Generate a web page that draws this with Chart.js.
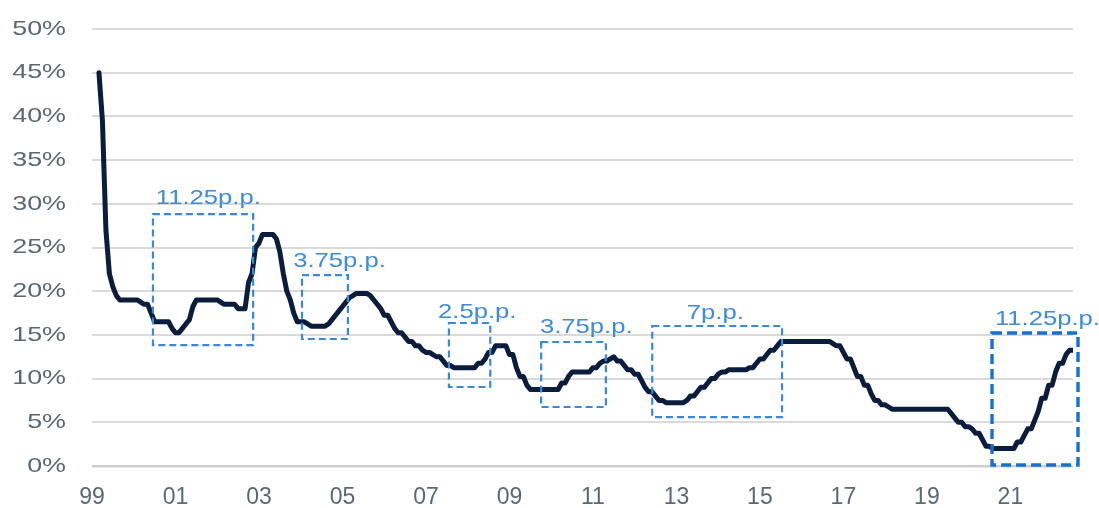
<!DOCTYPE html>
<html>
<head>
<meta charset="utf-8">
<script src="https://cdn.jsdelivr.net/npm/chart.js@4/dist/chart.umd.min.js"></script>
<style>
  html, body { margin: 0; padding: 0; background: #ffffff; }
  canvas { display: block; }
</style>
</head>
<body>
<canvas id="selic" width="1099" height="508"></canvas>
<script>
// Monthly policy rate (% p.a.), March 1999 through July 2022
const startYear = 1999;
const startMonth = 3;
const selic = [
  45, 39.5, 27, 22, 20.5, 19.5, 19, 19, 19, 19,                                   // 1999
  19, 19, 18.75, 18.5, 18.5, 17.5, 16.5, 16.5, 16.5, 16.5, 16.5, 15.75,           // 2000
  15.25, 15.25, 15.75, 16.25, 16.75, 18.25, 19, 19, 19, 19, 19, 19,               // 2001
  19, 18.75, 18.5, 18.5, 18.5, 18.5, 18, 18, 18, 21, 22, 25,                      // 2002
  25.5, 26.5, 26.5, 26.5, 26.5, 26, 24.5, 22, 20, 19, 17.5, 16.5,                 // 2003
  16.5, 16.5, 16.25, 16, 16, 16, 16, 16, 16.25, 16.75, 17.25, 17.75,              // 2004
  18.25, 18.75, 19.25, 19.5, 19.75, 19.75, 19.75, 19.75, 19.5, 19, 18.5, 18,      // 2005
  17.25, 17.25, 16.5, 15.75, 15.25, 15.25, 14.75, 14.25, 14.25, 13.75, 13.75, 13.25, // 2006
  13, 13, 12.75, 12.5, 12.5, 12, 11.5, 11.5, 11.25, 11.25, 11.25, 11.25,          // 2007
  11.25, 11.25, 11.25, 11.75, 11.75, 12.25, 13, 13, 13.75, 13.75, 13.75, 13.75,   // 2008
  12.75, 12.75, 11.25, 10.25, 10.25, 9.25, 8.75, 8.75, 8.75, 8.75, 8.75, 8.75,    // 2009
  8.75, 8.75, 8.75, 9.5, 9.5, 10.25, 10.75, 10.75, 10.75, 10.75, 10.75, 10.75,    // 2010
  11.25, 11.25, 11.75, 12, 12, 12.25, 12.5, 12, 12, 11.5, 11, 11,                 // 2011
  10.5, 10.5, 9.75, 9, 8.5, 8.5, 8, 7.5, 7.5, 7.25, 7.25, 7.25,                   // 2012
  7.25, 7.25, 7.25, 7.5, 8, 8, 8.5, 9, 9, 9.5, 10, 10,                            // 2013
  10.5, 10.75, 10.75, 11, 11, 11, 11, 11, 11, 11.25, 11.25, 11.75,                // 2014
  12.25, 12.25, 12.75, 13.25, 13.25, 13.75, 14.25, 14.25, 14.25, 14.25, 14.25, 14.25, // 2015
  14.25, 14.25, 14.25, 14.25, 14.25, 14.25, 14.25, 14.25, 14.25, 14, 13.75, 13.75, // 2016
  13, 12.25, 12.25, 11.25, 10.25, 10.25, 9.25, 9.25, 8.25, 7.5, 7.5, 7,           // 2017
  7, 6.75, 6.5, 6.5, 6.5, 6.5, 6.5, 6.5, 6.5, 6.5, 6.5, 6.5,                      // 2018
  6.5, 6.5, 6.5, 6.5, 6.5, 6.5, 6.5, 6, 5.5, 5, 5, 4.5,                           // 2019
  4.5, 4.25, 3.75, 3.75, 3, 2.25, 2.25, 2, 2, 2, 2, 2,                            // 2020
  2, 2, 2.75, 2.75, 3.5, 4.25, 4.25, 5.25, 6.25, 7.75, 7.75, 9.25,                // 2021
  9.25, 10.75, 11.75, 11.75, 12.75, 13.25, 13.25                                  // 2022
];

// Axis labels
const tickYears = [1999, 2001, 2003, 2005, 2007, 2009, 2011, 2013, 2015, 2017, 2019, 2021];
const tickLabels = ['99', '01', '03', '05', '07', '09', '11', '13', '15', '17', '19', '21'];
const axisMin = 1999;
const axisMax = 2022.5;

// Highlighted easing/tightening episodes (years, % levels) and their captions
const boxStart   = [2000.46, 2004.03, 2007.55, 2009.76, 2012.42, 2020.56];
const boxEnd     = [2002.86, 2005.13, 2008.54, 2011.31, 2015.53, 2022.62];
const boxLow     = [13.84, 14.53, 9.04, 6.75, 5.6, 0.11];
const boxHigh    = [28.83, 21.85, 16.36, 14.19, 16.02, 15.22];
const boxLabels  = ['11.25p.p.', '3.75p.p.', '2.5p.p.', '3.75p.p.', '7p.p.', '11.25p.p.'];
const labelYear  = [2000.53, 2003.82, 2007.29, 2009.73, 2013.25, 2020.63];
const labelLevel = [29.98, 22.77, 16.93, 15.22, 16.82, 16.13];

const points = selic.map((v, i) => ({ x: startYear + (startMonth - 1 + i) / 12, y: v }));

const LABEL_GREY = '#5b6872';
const Y_TEXT_STRETCH = 1.28;
const NOTE_STRETCH = 1.22;

// The value axis labels use a wide, stretched face; patch right-aligned text drawing
const wideAxisText = {
  id: 'wideAxisText',
  beforeDraw(chart) {
    const ctx = chart.ctx;
    if (ctx.__plainFillText) return;
    const plain = ctx.fillText;
    ctx.__plainFillText = plain;
    ctx.fillText = function (text, x, y, maxWidth) {
      if (this.textAlign !== 'right') return plain.call(this, text, x, y);
      this.save();
      this.translate(x, y);
      this.scale(Y_TEXT_STRETCH, 1);
      plain.call(this, text, 0, 0);
      this.restore();
    };
  }
};

// Dashed rectangles with their captions
const episodeBoxes = {
  id: 'episodeBoxes',
  afterDatasetsDraw(chart) {
    const ctx = chart.ctx;
    const xs = chart.scales.x, ys = chart.scales.y;
    const plain = ctx.__plainFillText || ctx.fillText;
    boxLabels.forEach((label, i) => {
      const last = i === boxLabels.length - 1;
      const x0 = xs.getPixelForValue(boxStart[i]);
      const x1 = xs.getPixelForValue(boxEnd[i]);
      const y0 = ys.getPixelForValue(boxHigh[i]);
      const y1 = ys.getPixelForValue(boxLow[i]);
      ctx.save();
      ctx.strokeStyle = last ? '#1670d2' : '#3a88d6';
      ctx.lineWidth = last ? 3.4 : 2.2;
      ctx.setLineDash(last ? [10, 5] : [7, 4]);
      ctx.strokeRect(x0, y0, x1 - x0, y1 - y0);
      ctx.restore();

      ctx.save();
      ctx.font = '21px "Liberation Sans", Arial, sans-serif';
      ctx.fillStyle = '#3d8bd9';
      ctx.textAlign = 'left';
      ctx.textBaseline = 'alphabetic';
      ctx.translate(xs.getPixelForValue(labelYear[i]), ys.getPixelForValue(labelLevel[i]));
      ctx.scale(NOTE_STRETCH, 1);
      plain.call(ctx, label, 0, 0);
      ctx.restore();
    });
  }
};

new Chart(document.getElementById('selic'), {
  type: 'line',
  data: {
    datasets: [{
      data: points,
      borderColor: '#0b1d3d',
      borderWidth: 5,
      pointRadius: 0,
      tension: 0,
      borderJoinStyle: 'round',
      borderCapStyle: 'round',
      fill: false
    }]
  },
  options: {
    responsive: false,
    animation: false,
    devicePixelRatio: 1,
    parsing: false,
    layout: { padding: { top: 29, right: 26, left: 0, bottom: 0 } },
    plugins: { legend: { display: false }, tooltip: { enabled: false } },
    scales: {
      x: {
        type: 'linear',
        min: axisMin,
        max: axisMax,
        grid: { display: false },
        border: { display: false },
        afterBuildTicks: (s) => { s.ticks = tickYears.map(v => ({ value: v })); },
        afterFit: (s) => { s.height = 42; },
        ticks: {
          autoSkip: false,
          maxRotation: 0,
          padding: 10,
          color: LABEL_GREY,
          font: { family: '"Liberation Sans", Arial, sans-serif', size: 23 },
          callback: (v, i) => tickLabels[i]
        }
      },
      y: {
        min: 0,
        max: 50,
        border: { display: false },
        afterFit: (s) => { s.width = 92; s.paddingTop = 0; s.paddingBottom = 0; },
        grid: {
          drawTicks: false,
          color: (c) => c.tick && c.tick.value === 0 ? '#cdcdcd' : '#dadada',
          lineWidth: (c) => c.tick && c.tick.value === 0 ? 2.6 : 2
        },
        ticks: {
          stepSize: 5,
          padding: 26,
          color: LABEL_GREY,
          font: { family: '"Liberation Sans", Arial, sans-serif', size: 21 },
          callback: (v) => v + '%'
        }
      }
    }
  },
  plugins: [wideAxisText, episodeBoxes]
});
</script>
</body>
</html>
